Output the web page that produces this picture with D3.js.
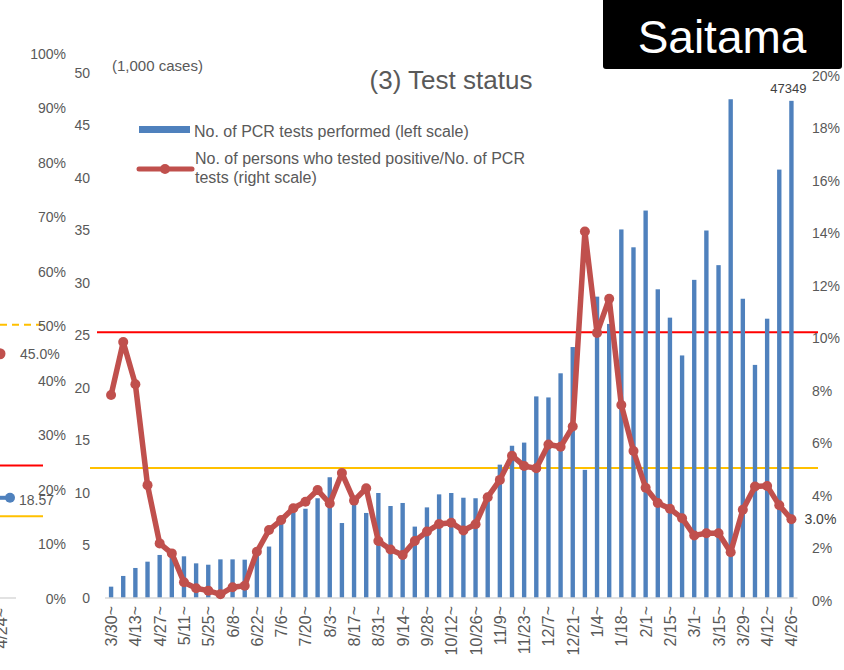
<!DOCTYPE html>
<head>
<meta charset="utf-8">
<title>Saitama - Test status</title>
<script src="https://d3js.org/d3.v7.min.js"></script>
<style>
  body { margin: 0; background: #fff; }
  text { font-family: "Liberation Sans", Arial, sans-serif; fill: #595959; }
</style>
</head>
<body>
<script>
//---------------------------DATA---------------------------//
// weekly periods (start date of each week), 2020/3/30 - 2021/4/26
const weeks = ["3/30","4/6","4/13","4/20","4/27","5/4","5/11","5/18","5/25","6/1",
  "6/8","6/15","6/22","6/29","7/6","7/13","7/20","7/27","8/3","8/10",
  "8/17","8/24","8/31","9/7","9/14","9/21","9/28","10/5","10/12","10/19",
  "10/26","11/2","11/9","11/16","11/23","11/30","12/7","12/14","12/21","12/28",
  "1/4","1/11","1/18","1/25","2/1","2/8","2/15","2/22","3/1","3/8",
  "3/15","3/22","3/29","4/5","4/12","4/19","4/26"];

// no. of PCR tests performed (1,000 cases)
const tests = [1.08,2.1,2.86,3.46,4.1,3.87,3.97,3.3,3.17,3.68,
  3.68,3.65,4.5,4.9,7.05,8.16,8.5,9.5,11.5,7.14,
  8.95,8.1,10.0,8.76,9.05,6.8,8.63,9.87,10.0,9.55,
  9.5,9.7,12.7,14.5,14.8,19.2,19.1,21.4,23.9,12.2,
  28.7,26.1,35.1,33.4,36.9,29.4,26.7,23.1,30.3,35.0,
  31.7,47.5,28.5,22.2,26.6,40.8,47.349];

// positives / tests (%)
const positivity = [7.73,9.75,8.14,4.3,2.08,1.7,0.6,0.37,0.28,0.14,
  0.41,0.47,1.76,2.59,2.97,3.42,3.67,4.11,3.6,4.76,
  3.71,4.18,2.17,1.85,1.64,2.17,2.53,2.82,2.87,2.57,
  2.81,3.84,4.5,5.42,5.03,4.94,5.85,5.76,6.53,13.96,
  10.1,11.4,7.35,5.6,4.2,3.62,3.4,3.04,2.38,2.47,
  2.47,1.74,3.36,4.25,4.27,3.53,3.0];

const leftTicks = [0,5,10,15,20,25,30,35,40,45,50];
const rightTicks = [0,2,4,6,8,10,12,14,16,18,20];
const redLevel = 10.12;    // % (right scale)
const yellowLevel = 4.95;  // % (right scale)

// neighbouring chart, cut off at the left edge
const prevTicks = [0,10,20,30,40,50,60,70,80,90,100];
const prevRed = 24.5, prevYellow = 15.2, prevDashed = 50.3;
const prevRate = 45.0, prevBlue = 18.57;

//---------------------------SCALES---------------------------//
const svg = d3.select("body").append("svg")
    .attr("width", 844)
    .attr("height", 670);

const x = d3.scaleBand()
    .domain(d3.range(weeks.length))
    .range([105, 797.5])
    .paddingInner(0.64)
    .paddingOuter(0.32);
const cx = function(i) { return x(i) + x.bandwidth() / 2; };

const yL = d3.scaleLinear().domain([0, 50]).range([598, 73]);
const yR = d3.scaleLinear().domain([0, 20]).range([598, 73]);
const yP = d3.scaleLinear().domain([0, 100]).range([599, 54]);

//---------------------------PREVIOUS CHART (clipped)---------------------------//
svg.append("line")
    .attr("x1", 0).attr("x2", 16).attr("y1", 598).attr("y2", 598)
    .attr("stroke", "#D9D9D9").attr("stroke-width", 1.5);

svg.append("line")
    .attr("x1", 0).attr("x2", 42)
    .attr("y1", yP(prevDashed)).attr("y2", yP(prevDashed))
    .attr("stroke", "#FFC000").attr("stroke-width", 2)
    .attr("stroke-dasharray", "7,5");
svg.append("line")
    .attr("x1", 0).attr("x2", 43)
    .attr("y1", yP(prevRed)).attr("y2", yP(prevRed))
    .attr("stroke", "#FF0000").attr("stroke-width", 2);
svg.append("line")
    .attr("x1", 0).attr("x2", 43)
    .attr("y1", yP(prevYellow)).attr("y2", yP(prevYellow))
    .attr("stroke", "#FFC000").attr("stroke-width", 2);

svg.append("line")
    .attr("x1", 0).attr("x2", 10)
    .attr("y1", yP(prevBlue)).attr("y2", yP(prevBlue))
    .attr("stroke", "#4F81BD").attr("stroke-width", 4);
svg.append("circle")
    .attr("cx", 10).attr("cy", yP(prevBlue)).attr("r", 5)
    .attr("fill", "#4F81BD");
svg.append("text")
    .attr("x", 19).attr("y", yP(prevBlue) + 2).attr("dy", "0.35em")
    .style("font-size", "14px")
    .text(prevBlue.toFixed(2));

svg.append("circle")
    .attr("cx", 0).attr("cy", yP(prevRate)).attr("r", 5.5)
    .attr("fill", "#C0504D");
svg.append("text")
    .attr("x", 20).attr("y", yP(prevRate)).attr("dy", "0.35em")
    .style("font-size", "14px")
    .text(prevRate.toFixed(1) + "%");

svg.append("g").selectAll("text")
    .data(prevTicks)
    .join("text")
    .attr("x", 66).attr("y", function(d) { return yP(d); })
    .attr("dy", "0.35em")
    .attr("text-anchor", "end")
    .style("font-size", "14px")
    .text(function(d) { return d + "%"; });

svg.append("text")
    .attr("transform", "translate(7,608) rotate(-90)")
    .attr("text-anchor", "end")
    .style("font-size", "16px")
    .text("4/24~");

//---------------------------MAIN CHART---------------------------//
// reference lines
svg.append("line")
    .attr("x1", 97).attr("x2", 818)
    .attr("y1", yR(redLevel)).attr("y2", yR(redLevel))
    .attr("stroke", "#FF0000").attr("stroke-width", 2);
svg.append("line")
    .attr("x1", 90).attr("x2", 818)
    .attr("y1", yR(yellowLevel)).attr("y2", yR(yellowLevel))
    .attr("stroke", "#FFC000").attr("stroke-width", 2);

// bars
svg.append("g").selectAll("rect")
    .data(tests)
    .join("rect")
    .attr("x", function(d, i) { return x(i); })
    .attr("y", function(d) { return yL(d); })
    .attr("width", x.bandwidth())
    .attr("height", function(d) { return yL(0) - yL(d); })
    .attr("fill", "#4F81BD");

// baseline
svg.append("line")
    .attr("x1", 105).attr("x2", 797.5).attr("y1", 598).attr("y2", 598)
    .attr("stroke", "#D9D9D9").attr("stroke-width", 1.5);

// axes
const leftAxis = d3.axisLeft(yL).tickValues(leftTicks).tickSize(0).tickPadding(0);
svg.append("g")
    .attr("transform", "translate(90,0)")
    .call(leftAxis)
    .call(function(g) { g.select(".domain").remove(); })
    .call(function(g) {
      g.selectAll("text").attr("fill", "#595959")
        .style("font-size", "14px")
        .style("font-family", "Liberation Sans, Arial, sans-serif");
    });

const rightAxis = d3.axisRight(yR).tickValues(rightTicks).tickSize(0).tickPadding(0)
    .tickFormat(function(d) { return d + "%"; });
svg.append("g")
    .attr("transform", "translate(812,3)")
    .call(rightAxis)
    .call(function(g) { g.select(".domain").remove(); })
    .call(function(g) {
      g.selectAll("text").attr("fill", "#595959")
        .style("font-size", "14px")
        .style("font-family", "Liberation Sans, Arial, sans-serif");
    });

// x labels, every second week
svg.append("g").selectAll("text")
    .data(weeks.filter(function(d, i) { return i % 2 === 0; }))
    .join("text")
    .attr("transform", function(d, j) {
      return "translate(" + (cx(j * 2) + 6) + ",606) rotate(-90)";
    })
    .attr("text-anchor", "end")
    .style("font-size", "16px")
    .text(function(d) { return d + "~"; });

// positivity line
const line = d3.line()
    .x(function(d, i) { return cx(i); })
    .y(function(d) { return yR(d); });

svg.append("path")
    .datum(positivity)
    .attr("d", line)
    .attr("fill", "none")
    .attr("stroke", "#C0504D")
    .attr("stroke-width", 5.5)
    .attr("stroke-linejoin", "round");

svg.append("g").selectAll("circle")
    .data(positivity)
    .join("circle")
    .attr("cx", function(d, i) { return cx(i); })
    .attr("cy", function(d) { return yR(d); })
    .attr("r", 5)
    .attr("fill", "#C0504D");

// value labels
const last = weeks.length - 1;
svg.append("text")
    .attr("x", cx(last) - 3).attr("y", yL(tests[last]) - 8)
    .attr("text-anchor", "middle")
    .style("font-size", "13px")
    .style("fill", "#404040")
    .text(Math.round(tests[last] * 1000));
svg.append("text")
    .attr("x", cx(last) + 13).attr("y", yR(positivity[last]))
    .attr("dy", "0.35em")
    .style("font-size", "14px")
    .style("fill", "#404040")
    .text(positivity[last].toFixed(1) + "%");

// titles
svg.append("text")
    .attr("x", 112).attr("y", 71)
    .style("font-size", "15px")
    .text("(1,000 cases)");
svg.append("text")
    .attr("x", 451).attr("y", 89)
    .attr("text-anchor", "middle")
    .style("font-size", "26px")
    .text("(3) Test status");

// legend
svg.append("rect")
    .attr("x", 139).attr("y", 126).attr("width", 51).attr("height", 7)
    .attr("fill", "#4F81BD");
svg.append("text")
    .attr("x", 194).attr("y", 131).attr("dy", "0.35em")
    .style("font-size", "16px")
    .text("No. of PCR tests performed (left scale)");
svg.append("line")
    .attr("x1", 139).attr("x2", 192).attr("y1", 169).attr("y2", 169)
    .attr("stroke", "#C0504D").attr("stroke-width", 5)
    .attr("stroke-linecap", "round");
svg.append("circle")
    .attr("cx", 165).attr("cy", 169).attr("r", 5)
    .attr("fill", "#C0504D");
svg.append("text")
    .attr("x", 195).attr("y", 158).attr("dy", "0.35em")
    .style("font-size", "16px")
    .text("No. of persons who tested positive/No. of PCR");
svg.append("text")
    .attr("x", 195).attr("y", 177).attr("dy", "0.35em")
    .style("font-size", "16px")
    .text("tests (right scale)");

// prefecture badge
svg.append("rect")
    .attr("x", 603).attr("y", -6).attr("width", 239).attr("height", 75)
    .attr("rx", 3)
    .attr("fill", "#000");
svg.append("text")
    .attr("x", 722).attr("y", 53)
    .attr("text-anchor", "middle")
    .style("font-size", "46px")
    .style("fill", "#fff")
    .text("Saitama");
</script>
</body>
